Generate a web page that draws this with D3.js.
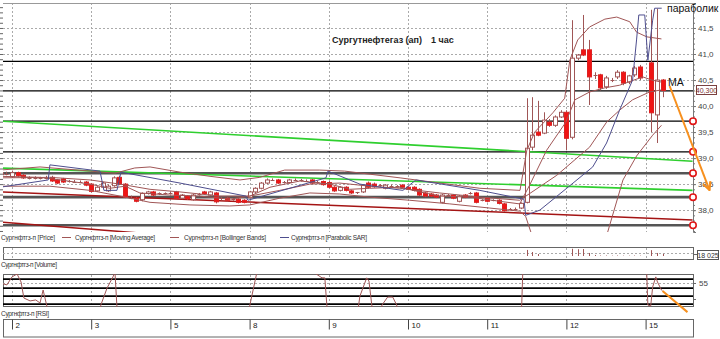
<!DOCTYPE html>
<html>
<head>
<meta charset="utf-8">
<script src="https://cdn.jsdelivr.net/npm/d3@7"></script>
<style>
  body { margin: 0; background: #fff; }
  svg { display: block; }
  text { font-family: "Liberation Sans", Arial, sans-serif; }
</style>
</head>
<body>
<svg id="chart" width="720" height="339"></svg>
<script>
// ---- data: hourly candles, index 114 is an empty slot (day 15 opens on slot 115)
var dayIdx = [2, 16, 30, 44, 58, 72, 86, 100, 114];
var dayLabels = ['2', '3', '5', '8', '9', '10', '11', '12', '15'];
var priceTicks = [38.0, 38.5, 39.0, 39.5, 40.0, 40.5, 41.0, 41.5];

var opens = [38.68,38.71,38.64,38.72,38.67,38.62,38.61,38.62,38.61,38.63,
  38.58,38.60,38.55,38.56,38.55,38.54,38.50,38.37,38.44,38.37,
  38.47,38.63,38.50,38.25,38.23,38.20,38.32,38.35,38.31,38.32,
  38.33,38.35,38.23,38.27,38.20,38.30,38.35,38.29,38.33,38.22,
  38.23,38.21,38.21,38.19,38.24,38.35,38.42,38.52,38.58,38.58,
  38.53,38.53,38.58,38.58,38.57,38.58,38.53,38.55,38.53,38.44,
  38.38,38.44,38.37,38.33,38.35,38.52,38.50,38.47,38.42,38.46,
  38.46,38.48,38.44,38.44,38.40,38.33,38.31,38.29,38.15,38.29,
  38.29,38.17,38.29,38.32,38.33,38.19,38.23,38.19,38.19,38.12,
  38.02,38.02,38.04,38.15,39.21,39.50,39.48,39.69,39.63,39.79,
  39.88,39.40,40.92,41.08,41.08,40.60,40.60,40.37,40.50,40.56,
  40.65,40.46,40.60,40.75,null,40.83,39.83,40.50];
var highs = [38.75,38.74,38.76,38.74,38.70,38.65,38.65,38.64,38.66,38.66,
  38.60,38.62,38.58,38.58,38.57,38.56,38.52,38.46,38.54,38.49,
  38.65,38.66,38.52,38.28,38.25,38.34,38.37,38.37,38.34,38.34,
  38.35,38.37,38.31,38.29,38.31,38.33,38.37,38.37,38.35,38.25,
  38.25,38.23,38.23,38.21,38.37,38.44,38.54,38.61,38.61,38.60,
  38.56,38.60,38.61,38.60,38.59,38.60,38.56,38.57,38.56,38.46,
  38.46,38.46,38.39,38.35,38.50,38.55,38.53,38.50,38.50,38.49,
  38.48,38.50,38.46,38.46,38.42,38.35,38.33,38.31,38.31,38.31,
  38.31,38.29,38.31,38.35,38.35,38.21,38.25,38.21,38.21,38.14,
  38.04,38.05,38.15,40.15,40.17,40.10,39.88,39.75,39.82,39.92,
  39.92,41.65,41.00,41.75,41.27,40.65,40.62,40.58,40.54,40.69,
  40.67,40.60,40.77,40.79,null,41.85,41.87,40.52];
var lows = [38.66,38.67,38.62,38.64,38.60,38.59,38.59,38.59,38.59,38.54,
  38.50,38.52,38.53,38.53,38.52,38.46,38.34,38.35,38.42,38.35,
  38.45,38.48,38.23,38.21,38.15,38.17,38.30,38.27,38.29,38.30,
  38.30,38.21,38.21,38.20,38.18,38.28,38.30,38.27,38.13,38.19,
  38.17,38.18,38.13,38.13,38.22,38.33,38.40,38.50,38.56,38.50,
  38.51,38.51,38.56,38.55,38.54,38.50,38.51,38.47,38.42,38.35,
  38.36,38.36,38.31,38.31,38.33,38.42,38.43,38.45,38.40,38.44,
  38.44,38.42,38.38,38.36,38.27,38.25,38.25,38.23,38.13,38.27,
  38.21,38.15,38.23,38.30,38.13,38.17,38.15,38.17,38.11,37.97,
  38.00,38.00,38.02,38.13,39.15,39.42,39.46,39.60,39.60,39.77,
  39.15,39.36,40.88,40.96,40.02,40.52,40.30,40.33,40.46,40.52,
  40.40,40.42,40.56,40.50,null,39.50,39.29,40.17];
var closes = [38.72,38.70,38.72,38.66,38.62,38.61,38.62,38.61,38.62,38.56,
  38.52,38.54,38.56,38.55,38.55,38.48,38.36,38.44,38.52,38.46,
  38.62,38.50,38.25,38.24,38.17,38.32,38.35,38.29,38.32,38.32,
  38.33,38.23,38.29,38.22,38.29,38.31,38.32,38.35,38.16,38.23,
  38.19,38.21,38.15,38.15,38.35,38.42,38.52,38.58,38.58,38.52,
  38.54,38.58,38.58,38.57,38.56,38.52,38.54,38.49,38.44,38.37,
  38.44,38.38,38.33,38.34,38.48,38.44,38.45,38.48,38.48,38.46,
  38.47,38.44,38.40,38.38,38.29,38.27,38.27,38.25,38.29,38.29,
  38.23,38.27,38.25,38.33,38.15,38.19,38.17,38.19,38.13,37.99,
  38.02,38.03,38.13,39.19,39.44,39.44,39.73,39.63,39.79,39.88,
  39.38,40.92,40.98,40.98,40.56,40.60,40.35,40.54,40.51,40.65,
  40.44,40.58,40.73,40.54,null,39.87,40.50,40.30];

// indicator lines as [slot, price]
var bbUpper = [[-0.1,38.77],[6.95,38.83],[15.8,38.75],[20.2,38.71],[23.7,38.81],[26.4,38.83],[31.7,38.73],
  [37.0,38.65],[42.3,38.58],[45.8,38.63],[50.2,38.77],[56.4,38.77],[60.8,38.75],[65.3,38.69],[70.6,38.62],
  [77.6,38.52],[84.7,38.42],[91.8,38.38],[93.0,39.15],[94.4,39.50],[97.6,39.87],[99.7,40.15],[100.6,40.88],
  [102.0,41.27],[104.1,41.52],[106.8,41.67],[108.9,41.71],[111.2,41.62],[112.4,41.42],[114.2,41.33],[116.8,41.29]];
var bbMiddle = [[-0.1,38.62],[8.7,38.63],[15.8,38.58],[21.1,38.50],[26.4,38.40],[31.7,38.35],[38.75,38.27],
  [44.05,38.27],[49.35,38.38],[54.65,38.50],[59.95,38.52],[65.25,38.46],[70.55,38.42],[77.6,38.33],[84.7,38.25],
  [91.75,38.19],[98.3,38.67],[104.1,39.21],[107.1,39.69],[109.4,39.92],[111.7,40.12],[114.7,40.27],[116.8,40.31]];
var bbLower = [[-0.1,38.46],[8.7,38.46],[15.8,38.38],[21.1,38.27],[26.4,38.15],[33.45,38.10],[40.5,38.08],
  [44.05,38.10],[49.35,38.23],[54.65,38.33],[59.95,38.31],[65.25,38.25],[72.3,38.19],[79.4,38.12],[86.45,38.04],
  [91.75,37.98],[92.8,37.88],[93.9,37.52],[98.8,36.85],[105.9,37.00],[107.3,37.58],[110.0,38.58],[112.4,39.04],
  [115.25,39.44],[116.8,39.63]];
var movingAvg = [[-0.1,38.65],[6.95,38.63],[10.5,38.58],[15.8,38.50],[19.3,38.42],[22.0,38.46],[24.6,38.33],
  [29.9,38.29],[35.2,38.27],[40.5,38.21],[44.05,38.27],[47.6,38.44],[52.9,38.56],[58.2,38.50],[61.7,38.40],
  [65.25,38.42],[70.55,38.44],[74.1,38.35],[77.6,38.27],[82.9,38.25],[88.2,38.17],[91.75,38.12],[93.5,38.48],
  [96.5,39.15],[99.9,39.69],[101.5,40.12],[104.1,40.27],[106.8,40.35],[109.4,40.40],[113.5,40.56],[115.1,40.50],[116.8,40.46]];
var parabolicSar = [[-0.1,38.44],[8.4,38.58],[8.7,38.87],[17.55,38.75],[18.25,38.38],[20.55,38.38],[21.25,38.73],
  [31.7,38.52],[43.35,38.27],[43.7,38.19],[57.5,38.62],[57.85,38.75],[63.5,38.50],[69.7,38.40],[71.1,38.38],
  [73.4,38.58],[84.7,38.38],[92.5,38.21],[92.8,37.90],[95.3,38.00],[100.05,38.42],[104.65,38.83],[107.1,39.29],
  [109.4,39.92],[111.7,40.50],[112.4,41.27],[112.8,41.75],[113.85,41.75],[114.4,40.88],[115.25,41.65],[115.6,41.88],[116.85,41.88]];

// hand-drawn levels and trend lines
var levelPrices = [40.86, 40.29, 39.71, 39.12, 38.71, 38.25, 37.71];
var greenTrends = [[[-0.1,39.71],[122.3,38.94]], [[-0.1,38.81],[122.3,38.38]]];
var redTrends = [[[-0.1,38.35],[122.3,37.81]], [[-0.1,37.77],[24.6,37.56]]];
var priceArrow = [[118.25,40.385],[125.3,38.385]];
var lastPrice = 40.30;

// volume (only the visible bars)
var volIdx = [93,94,95,101,102,103,104,105,106,107,108,109,110,111,112,113,115,116,117];
var volVals = [52000,34000,17000,62000,58000,60000,26000,9000,4000,4000,3000,4000,3000,3000,4000,3000,50000,26000,18025];

// RSI: visible pieces of the line
var rsiPieces = [
  [[-0.1,55],[1.1,54.4],[2,56.9],[2.9,57.8],[3.6,55.3],[4.1,50.3],[5.2,49.4],[6.2,49.7],[6.95,48.75],[7.5,52.8],[8.2,47.5],[8.4,45.9]],
  [[17.55,45.9],[17.7,48.1],[18.8,53.4],[19.85,56.9],[20.2,58.4],[20.55,47.5],[20.7,45.9]],
  [[43.9,45.9],[44.05,48.1],[45.3,58.4],[45.5,59.7]],
  [[55.35,59.7],[55.5,58.1],[56.8,56.6],[57.3,56.6],[57.65,48.1],[57.8,45.9]],
  [[63.1,45.9],[63.5,50.9],[64.7,56.6],[65.1,55.6],[65.6,48.1],[65.8,45.9]],
  [[67.2,45.9],[67.4,48.1],[68.4,50.6],[69.3,50.6],[70.0,48.1],[70.2,45.9]],
  [[91.9,45.9],[92.1,48.1],[92.3,59.1]],
  [[114.0,59.7],[114.2,58.1],[114.4,48.1],[114.9,47.8],[115.25,53.75],[115.8,56.9],[116.1,55.3],[116.8,52.8],[117.0,52.5]]
];
var rsiLevels = [56.2, 53.4, 50.9, 48.4];
var rsiArrow = [[117.0,52.5],[121.4,45.9]];

// ---- layout
var L = 3, R = 693;
var svg = d3.select('#chart');
var x = d3.scaleLinear().domain([2, 114]).range([12, 645.6]);
var y = d3.scaleLinear().domain([37.58, 41.98]).range([232, 3]);
var yVol = d3.scaleLinear().domain([0, 60000]).range([256, 249]);
var yRsi = d3.scaleLinear().domain([47.5, 57.8]).range([307, 274]);

var brown = '#a05656', navy = '#4e4e8e', orange = '#f7901e';
var fmt = function(d) { return d.toFixed(1).replace('.', ','); };

var defs = svg.append('defs');
defs.append('clipPath').attr('id', 'clipMain').append('rect')
  .attr('x', L).attr('y', 3).attr('width', R - L).attr('height', 229);
defs.append('clipPath').attr('id', 'clipRsi').append('rect')
  .attr('x', L).attr('y', 274).attr('width', R - L).attr('height', 33);
defs.append('marker').attr('id', 'arr').attr('viewBox', '0 0 10 10')
  .attr('refX', 9).attr('refY', 5).attr('markerWidth', 5).attr('markerHeight', 5)
  .attr('orient', 'auto')
  .append('path').attr('d', 'M1,1 L9,5 L1,9').attr('fill', 'none')
  .attr('stroke', orange).attr('stroke-width', 2);

// ---- main panel
var main = svg.append('g');

// grid
main.append('g').selectAll('line').data(priceTicks).join('line')
  .attr('x1', L).attr('x2', R)
  .attr('y1', function(d) { return Math.round(y(d)) + 0.5; })
  .attr('y2', function(d) { return Math.round(y(d)) + 0.5; })
  .attr('stroke', '#aaa').attr('stroke-dasharray', '2,2');
main.append('g').selectAll('line').data(dayIdx).join('line')
  .attr('x1', function(d) { return Math.round(x(d)) + 0.5; })
  .attr('x2', function(d) { return Math.round(x(d)) + 0.5; })
  .attr('y1', 3).attr('y2', 232)
  .attr('stroke', '#aaa').attr('stroke-dasharray', '2,2');

main.append('line').attr('x1', L).attr('x2', R).attr('y1', 3.5).attr('y2', 3.5).attr('stroke', '#999');

// axes
var rightAxis = main.append('g').attr('transform', 'translate(' + R + ',0)')
  .call(d3.axisRight(y).tickValues(priceTicks).tickFormat(fmt).tickSize(3).tickPadding(2));
rightAxis.select('.domain').attr('stroke', '#777');
rightAxis.selectAll('text').attr('font-size', 8).attr('fill', '#444');
rightAxis.selectAll('line').attr('stroke', '#777');
main.append('g').attr('transform', 'translate(' + R + ',0)')
  .call(d3.axisRight(y).ticks(40).tickFormat('').tickSize(2))
  .call(function(g) { g.select('.domain').remove(); g.selectAll('line').attr('stroke', '#777'); });
main.append('g').attr('transform', 'translate(' + L + ',0)')
  .call(d3.axisLeft(y).ticks(40).tickFormat('').tickSize(3))
  .call(function(g) { g.select('.domain').remove(); g.selectAll('line').attr('stroke', '#666'); });

var plot = main.append('g').attr('clip-path', 'url(#clipMain)');
var line = d3.line().x(function(d) { return x(d[0]); }).y(function(d) { return y(d[1]); });

// levels
plot.append('g').selectAll('line').data(levelPrices).join('line')
  .attr('x1', 0).attr('x2', R)
  .attr('y1', function(d) { return y(d); }).attr('y2', function(d) { return y(d); })
  .attr('stroke', function(d, i) { return i < 4 ? '#000' : '#555'; })
  .attr('stroke-width', function(d, i) { return i < 4 ? 1.3 : 2.6; });

// trend lines
plot.append('g').selectAll('path').data(greenTrends).join('path')
  .attr('d', line).attr('fill', 'none').attr('stroke', '#2fcf2f').attr('stroke-width', 1.6);
plot.append('g').selectAll('path').data(redTrends).join('path')
  .attr('d', line).attr('fill', 'none').attr('stroke', '#a41414').attr('stroke-width', 1.5);

// candles
var slots = d3.range(opens.length).filter(function(i) { return opens[i] != null; });
var cg = plot.append('g');
cg.selectAll('line.wick').data(slots).join('line').attr('class', 'wick')
  .attr('x1', function(i) { return Math.round(x(i)) + 0.5; })
  .attr('x2', function(i) { return Math.round(x(i)) + 0.5; })
  .attr('y1', function(i) { return y(highs[i]); })
  .attr('y2', function(i) { return y(lows[i]); })
  .attr('stroke', brown).attr('stroke-width', 1);
cg.selectAll('rect').data(slots.filter(function(i) { return Math.abs(closes[i] - opens[i]) >= 0.015; }))
  .join('rect')
  .attr('x', function(i) { return Math.round(x(i)) - 1.5; })
  .attr('width', 4)
  .attr('y', function(i) { return y(Math.max(opens[i], closes[i])); })
  .attr('height', function(i) { return Math.max(1, Math.abs(y(opens[i]) - y(closes[i]))); })
  .attr('fill', function(i) { return closes[i] > opens[i] ? '#fff' : '#f01414'; })
  .attr('stroke', function(i) { return closes[i] > opens[i] ? brown : '#d22'; })
  .attr('stroke-width', 1);
cg.selectAll('line.doji').data(slots.filter(function(i) { return Math.abs(closes[i] - opens[i]) < 0.015; }))
  .join('line').attr('class', 'doji')
  .attr('x1', function(i) { return Math.round(x(i)) - 1.5; })
  .attr('x2', function(i) { return Math.round(x(i)) + 2.5; })
  .attr('y1', function(i) { return Math.round(y(closes[i])) + 0.5; })
  .attr('y2', function(i) { return Math.round(y(closes[i])) + 0.5; })
  .attr('stroke', brown);

// indicators
[bbUpper, bbMiddle, bbLower, movingAvg].forEach(function(s) {
  plot.append('path').datum(s).attr('d', line).attr('fill', 'none')
    .attr('stroke', brown).attr('stroke-width', 1);
});
plot.append('path').datum(parabolicSar).attr('d', line).attr('fill', 'none')
  .attr('stroke', navy).attr('stroke-width', 1);

// level markers on the right edge
main.append('g').selectAll('circle').data(levelPrices.slice(2)).join('circle')
  .attr('cx', R).attr('cy', function(d) { return y(d); }).attr('r', 3.2)
  .attr('fill', '#fff').attr('stroke', '#e01818').attr('stroke-width', 1.6);

// last price box
var lp = main.append('g').attr('transform', 'translate(' + (R + 3) + ',' + Math.round(y(lastPrice)) + ')');
lp.append('rect').attr('x', 0.5).attr('y', -4.5).attr('width', 20).attr('height', 9)
  .attr('fill', '#fff').attr('stroke', '#7a4040');
lp.append('text').attr('x', 10.5).attr('y', 2.5).attr('text-anchor', 'middle')
  .attr('font-size', 7).attr('fill', '#7a3030').text(lastPrice.toFixed(3).replace('.', ','));

// orange arrow and notes
main.append('path').datum(priceArrow).attr('d', line).attr('fill', 'none')
  .attr('stroke', orange).attr('stroke-width', 2).attr('marker-end', 'url(#arr)');
main.append('text').attr('x', 332).attr('y', 43).attr('font-size', 9).attr('font-weight', 'bold')
  .attr('fill', '#222').text('Сургутнефтегаз (ап)');
main.append('text').attr('x', 431).attr('y', 43).attr('font-size', 9).attr('font-weight', 'bold')
  .attr('fill', '#222').text('1 час');
main.append('text').attr('x', 667).attr('y', 12).attr('font-size', 10.5).attr('fill', '#111').text('параболик');
main.append('text').attr('x', 668).attr('y', 86).attr('font-size', 10.5).attr('fill', '#111').text('МА');

// legend of the main panel
var legend = svg.append('g').attr('font-size', 6.5).attr('fill', '#333');
legend.append('text').attr('x', 1).attr('y', 240).attr('textLength', 54).text('Сургнфтгз-п [Price]');
[[62, 75, 'Сургнфтгз-п [Moving Average]', 80, brown],
 [170, 184, 'Сургнфтгз-п [Bollinger Bands]', 82, brown],
 [280, 291, 'Сургнфтгз-п [Parabolic SAR]', 76, navy]].forEach(function(it) {
  legend.append('line').attr('x1', it[0]).attr('x2', it[0] + 9).attr('y1', 237.5).attr('y2', 237.5)
    .attr('stroke', it[4]);
  legend.append('text').attr('x', it[1]).attr('y', 240).attr('textLength', it[3]).text(it[2]);
});

// ---- volume panel
var vol = svg.append('g');
vol.append('rect').attr('x', L + 0.5).attr('y', 247.5).attr('width', R - L).attr('height', 12)
  .attr('fill', 'none').attr('stroke', '#666');
vol.append('line').attr('x1', L).attr('x2', R).attr('y1', 253.5).attr('y2', 253.5)
  .attr('stroke', '#aaa').attr('stroke-dasharray', '2,2');
vol.append('g').selectAll('line').data(dayIdx).join('line')
  .attr('x1', function(d) { return Math.round(x(d)) + 0.5; })
  .attr('x2', function(d) { return Math.round(x(d)) + 0.5; })
  .attr('y1', 248).attr('y2', 259).attr('stroke', '#aaa').attr('stroke-dasharray', '2,2');
vol.append('g').selectAll('rect').data(volIdx).join('rect')
  .attr('x', function(d) { return Math.round(x(d)); }).attr('width', 1)
  .attr('y', function(d, i) { return yVol(volVals[i]); })
  .attr('height', function(d, i) { return yVol(0) - yVol(volVals[i]); })
  .attr('fill', brown);
vol.append('line').attr('x1', R).attr('x2', R + 4).attr('y1', 254.5).attr('y2', 254.5).attr('stroke', '#666');
vol.append('rect').attr('x', R + 4.5).attr('y', 250.5).attr('width', 21).attr('height', 9)
  .attr('fill', '#fff').attr('stroke', '#555');
vol.append('text').attr('x', R + 15).attr('y', 257.5).attr('text-anchor', 'middle')
  .attr('font-size', 7).attr('fill', '#333').text('18 025');
svg.append('text').attr('x', 1).attr('y', 267).attr('font-size', 6.5).attr('fill', '#333')
  .attr('textLength', 56).text('Сургнфтгз-п [Volume]');

// ---- RSI panel
var rsi = svg.append('g');
rsi.append('rect').attr('x', L + 0.5).attr('y', 274.5).attr('width', R - L).attr('height', 32)
  .attr('fill', 'none').attr('stroke', '#666');
rsi.append('line').attr('x1', L).attr('x2', R).attr('y1', Math.round(yRsi(55)) + 0.5).attr('y2', Math.round(yRsi(55)) + 0.5)
  .attr('stroke', '#aaa').attr('stroke-dasharray', '2,2');
rsi.append('g').selectAll('line').data(dayIdx).join('line')
  .attr('x1', function(d) { return Math.round(x(d)) + 0.5; })
  .attr('x2', function(d) { return Math.round(x(d)) + 0.5; })
  .attr('y1', 275).attr('y2', 306).attr('stroke', '#aaa').attr('stroke-dasharray', '2,2');
rsi.append('g').selectAll('line').data(rsiLevels).join('line')
  .attr('x1', L).attr('x2', R)
  .attr('y1', function(d) { return yRsi(d); }).attr('y2', function(d) { return yRsi(d); })
  .attr('stroke', '#000').attr('stroke-width', 1.6);
var rline = d3.line().x(function(d) { return x(d[0]); }).y(function(d) { return yRsi(d[1]); });
rsi.append('g').attr('clip-path', 'url(#clipRsi)').selectAll('path').data(rsiPieces).join('path')
  .attr('d', rline).attr('fill', 'none').attr('stroke', brown).attr('stroke-width', 1);
var rAxis = rsi.append('g').attr('transform', 'translate(' + R + ',0)')
  .call(d3.axisRight(yRsi).tickValues([50, 55]).tickFormat(function(d) { return d === 55 ? '55' : ''; }).tickSize(3));
rAxis.select('.domain').remove();
rAxis.selectAll('line').attr('stroke', '#666');
rAxis.selectAll('text').attr('font-size', 8).attr('fill', '#444');
rsi.append('path').datum(rsiArrow).attr('d', rline).attr('fill', 'none')
  .attr('stroke', orange).attr('stroke-width', 2);
svg.append('text').attr('x', 1).attr('y', 316).attr('font-size', 6.5).attr('fill', '#333')
  .attr('textLength', 48).text('Сургнфтгз-п [RSI]');

// ---- date axis
var dates = svg.append('g');
dates.append('rect').attr('x', L + 0.5).attr('y', 319.5).attr('width', R - L).attr('height', 17.5)
  .attr('fill', 'none').attr('stroke', '#666');
var dAxis = dates.append('g').attr('transform', 'translate(0,319.5)')
  .call(d3.axisBottom(x).tickValues(dayIdx).tickFormat(function(d, i) { return dayLabels[i]; }).tickSize(10));
dAxis.select('.domain').remove();
dAxis.selectAll('line').attr('stroke', '#444');
dAxis.selectAll('text').attr('font-size', 8).attr('fill', '#222')
  .attr('text-anchor', 'start').attr('dx', 3).attr('y', 3);
</script>
</body>
</html>
